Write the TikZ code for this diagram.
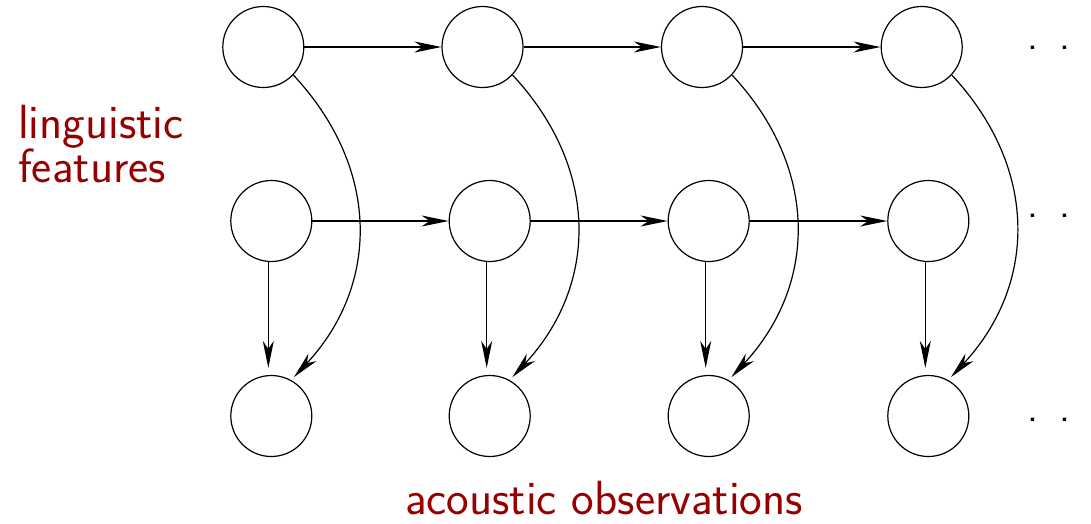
\documentclass[tikz,border=0pt]{standalone}
\usetikzlibrary{arrows.meta}
\definecolor{labelred}{RGB}{150,0,0}
\begin{document}
\begin{tikzpicture}[x=1pt,y=1pt,
  state/.style={circle,draw,line width=1.2pt,minimum size=81pt,inner sep=0pt},
  conn/.style={line width=1.2pt,-{Stealth[length=27pt,width=11pt,inset=8pt]}},
  lbl/.style={text=labelred,font=\sffamily\fontsize{48}{40}\selectfont,inner sep=0pt},
  dotlbl/.style={font=\sffamily\fontsize{42}{40}\selectfont,inner sep=0pt,anchor=base}]
\useasboundingbox (0,0) rectangle (1091,-523);
% top row
\node[state] (t1) at (263.3,-47) {};
\node[state] (t2) at (482.5,-47) {};
\node[state] (t3) at (702,-47) {};
\node[state] (t4) at (921.7,-47) {};
% middle row
\node[state] (m1) at (271.3,-221) {};
\node[state] (m2) at (489.7,-221) {};
\node[state] (m3) at (708.7,-221) {};
\node[state] (m4) at (928.3,-221) {};
% bottom row
\node[state] (b1) at (271.3,-416) {};
\node[state] (b2) at (489.7,-416) {};
\node[state] (b3) at (708.7,-416) {};
\node[state] (b4) at (928.3,-416) {};
% horizontal arrows
\foreach \a/\b in {1/2,2/3,3/4}{
  \draw[conn] (t\a.east) -- (t\b.west);
  \draw[conn] (m\a.east) -- (m\b.west);
}
% vertical and curved arrows
\foreach \i in {1,2,3,4}{
  \draw[conn,shorten >=7pt] ([xshift=-3pt]m\i.south) -- ([xshift=-3pt]b\i.north);
  \draw[conn,shorten >=4pt] (t\i.-43) to[out=-47,in=47,looseness=1.08] (b\i.61);
}
% continuation dots
\node[dotlbl] (d1) at (1049,-49) {.\hspace{21.8pt}.};
\node[dotlbl] (d2) at (1049,-217) {.\hspace{21.8pt}.};
\node[dotlbl] (d3) at (1049,-421) {.\hspace{21.8pt}.};
% labels
\node[lbl,align=left,anchor=base west] (ling) at (18,-182.7) {linguistic\\features};
\node[lbl,anchor=base] (acou) at (604,-514) {acoustic observations};
\end{tikzpicture}
\end{document}
